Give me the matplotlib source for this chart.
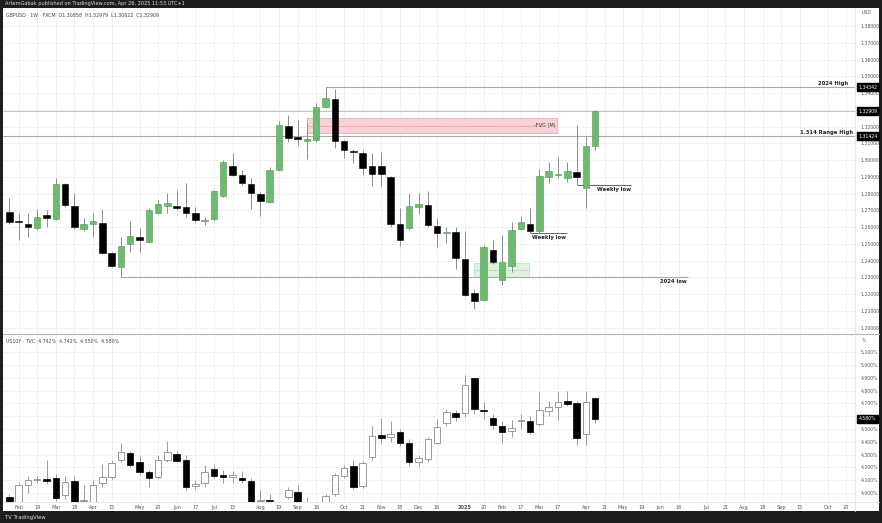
import matplotlib
matplotlib.use("Agg")
import matplotlib.pyplot as plt
from matplotlib.patches import Rectangle
from matplotlib.transforms import blended_transform_factory
import numpy as np

# ---------------- data ----------------
# GBPUSD weekly, week 0 = 29 Jan 2024
fx_open = [1.2691, 1.2633, 1.2618, 1.2594, 1.2672, 1.2648, 1.2855, 1.2727, 1.2586, 1.2618,
           1.2622, 1.2443, 1.2363, 1.2496, 1.2538, 1.2512, 1.2682, 1.2727, 1.2725, 1.2721,
           1.2682, 1.2634, 1.2646, 1.2785, 1.2964, 1.2910, 1.2855, 1.2795, 1.2751, 1.2940,
           1.3203, 1.3135, 1.3112, 1.3119, 1.3319, 1.3364, 1.3113, 1.3055, 1.3040, 1.2964,
           1.2964, 1.2900, 1.2618, 1.2592, 1.2721, 1.2730, 1.2608, 1.2562, 1.2572, 1.2407,
           1.2204, 1.2164, 1.2463, 1.2284, 1.2369, 1.2586, 1.2618, 1.2578, 1.2897, 1.2913,
           1.2891, 1.2926, 1.2835, 1.30858]
fx_high = [1.2771, 1.2682, 1.2682, 1.2706, 1.2701, 1.2891, 1.2862, 1.2801, 1.2654, 1.2685,
           1.2709, 1.2450, 1.2538, 1.2636, 1.2596, 1.2711, 1.2760, 1.2801, 1.2821, 1.2861,
           1.2721, 1.2660, 1.2820, 1.2998, 1.3044, 1.2940, 1.2890, 1.2810, 1.2956, 1.3230,
           1.3269, 1.3239, 1.3219, 1.3342, 1.34342, 1.3422, 1.3120, 1.3064, 1.3060, 1.3044,
           1.3047, 1.2905, 1.2713, 1.2801, 1.2804, 1.2812, 1.2654, 1.2602, 1.2602, 1.2575,
           1.2230, 1.2490, 1.2522, 1.2552, 1.2632, 1.2667, 1.2715, 1.2946, 1.2990, 1.3016,
           1.2990, 1.3209, 1.3143, 1.32979]
fx_low = [1.2618, 1.2522, 1.2539, 1.2585, 1.2602, 1.2640, 1.2720, 1.2590, 1.2575, 1.2542,
          1.2440, 1.2363, 1.2300, 1.2452, 1.2449, 1.2507, 1.2675, 1.2682, 1.2701, 1.2662,
          1.2630, 1.2612, 1.2637, 1.2780, 1.2905, 1.2850, 1.2706, 1.2667, 1.2745, 1.2935,
          1.3109, 1.3088, 1.3004, 1.3110, 1.3310, 1.3070, 1.3010, 1.2980, 1.2910, 1.2845,
          1.2844, 1.2602, 1.2487, 1.2580, 1.2680, 1.2600, 1.2481, 1.2503, 1.2350, 1.2190,
          1.2109, 1.2160, 1.2380, 1.2254, 1.2333, 1.2580, 1.2562, 1.2562, 1.2861, 1.2890,
          1.2870, 1.2851, 1.2712, 1.30622]
fx_close = [1.2632, 1.2628, 1.2600, 1.2662, 1.2655, 1.2855, 1.2731, 1.2602, 1.2618, 1.2638,
            1.2447, 1.2367, 1.2487, 1.2546, 1.2522, 1.2701, 1.2735, 1.2741, 1.2715, 1.2686,
            1.2642, 1.2642, 1.2815, 1.2986, 1.2910, 1.2861, 1.2803, 1.2757, 1.2940, 1.3209,
            1.3130, 1.3125, 1.3124, 1.3318, 1.3368, 1.3113, 1.3060, 1.3048, 1.2954, 1.2915,
            1.2915, 1.2618, 1.2522, 1.2725, 1.2737, 1.2612, 1.2566, 1.2572, 1.2417, 1.2196,
            1.2160, 1.2479, 1.2389, 1.2389, 1.2582, 1.2628, 1.2578, 1.2906, 1.2936, 1.2916,
            1.2934, 1.2900, 1.3084, 1.32909]

# US10Y weekly (%)
ry_open = [3.966, 3.930, 4.062, 4.100, 4.100, 4.120, 3.984, 4.096, 3.935, 3.930,
           4.076, 4.127, 4.258, 4.315, 4.245, 4.166, 4.127, 4.258, 4.305, 4.258,
           4.055, 4.076, 4.185, 4.130, 4.125, 4.120, 4.096, 3.935, 3.940, 3.850,
           3.970, 4.010, 3.900, 3.850, 3.930, 3.990, 4.135, 4.213, 4.057, 4.284,
           4.453, 4.435, 4.474, 4.393, 4.240, 4.263, 4.393, 4.550, 4.627, 4.623,
           4.896, 4.645, 4.584, 4.523, 4.484, 4.562, 4.562, 4.537, 4.643, 4.674,
           4.720, 4.700, 4.459, 4.742]
ry_high = [3.990, 4.090, 4.135, 4.130, 4.260, 4.150, 4.130, 4.130, 4.060, 4.100,
           4.230, 4.260, 4.390, 4.330, 4.290, 4.180, 4.300, 4.410, 4.330, 4.300,
           4.100, 4.220, 4.230, 4.180, 4.170, 4.170, 4.120, 4.020, 3.990, 3.880,
           4.050, 4.060, 3.970, 3.900, 3.990, 4.160, 4.220, 4.260, 4.250, 4.520,
           4.585, 4.560, 4.500, 4.420, 4.300, 4.440, 4.580, 4.660, 4.650, 4.920,
           4.900, 4.710, 4.620, 4.560, 4.570, 4.620, 4.600, 4.790, 4.720, 4.800,
           4.800, 4.720, 4.797, 4.742]
ry_low = [3.880, 3.900, 4.000, 4.080, 4.070, 3.940, 3.950, 3.900, 3.920, 3.900,
          4.050, 4.110, 4.240, 4.200, 4.140, 4.050, 4.110, 4.240, 4.240, 4.020,
          4.030, 4.050, 4.120, 4.078, 4.080, 4.080, 3.900, 3.900, 3.900, 3.780,
          3.950, 3.900, 3.850, 3.800, 3.900, 3.980, 4.120, 4.030, 4.040, 4.260,
          4.380, 4.400, 4.370, 4.210, 4.200, 4.240, 4.380, 4.520, 4.560, 4.590,
          4.620, 4.580, 4.500, 4.390, 4.440, 4.500, 4.460, 4.520, 4.600, 4.570,
          4.680, 4.375, 4.375, 4.550]
ry_close = [3.880, 4.062, 4.100, 4.107, 4.096, 3.963, 4.088, 3.930, 3.948, 4.062,
            4.127, 4.232, 4.323, 4.219, 4.166, 4.115, 4.258, 4.323, 4.252, 4.045,
            4.070, 4.166, 4.135, 4.125, 4.130, 4.100, 3.930, 3.945, 3.935, 3.800,
            4.020, 3.930, 3.880, 3.820, 3.977, 4.140, 4.193, 4.050, 4.232, 4.448,
            4.427, 4.459, 4.388, 4.240, 4.276, 4.420, 4.518, 4.635, 4.596, 4.844,
            4.654, 4.637, 4.531, 4.479, 4.510, 4.565, 4.474, 4.648, 4.670, 4.713,
            4.695, 4.427, 4.713, 4.580]

# time axis labels (week index, text)
tick_idx = [1, 3, 5, 7, 9, 11, 14, 16, 18, 20, 22, 24, 27, 29, 31, 33, 36, 38, 40, 42,
            44, 46, 49, 51, 53, 55, 57, 59, 62, 64, 66, 68, 70, 72, 75, 77, 79, 81, 83, 85,
            88, 90]
tick_txt = ["Feb", "19", "Mar", "18", "Apr", "15", "May", "20", "Jun", "17", "Jul", "15",
            "Aug", "19", "Sep", "16", "Oct", "21", "Nov", "18", "Dec", "16", "2025", "20",
            "Feb", "17", "Mar", "17", "Apr", "21", "May", "19", "Jun", "16", "Jul", "21",
            "Aug", "18", "Sep", "15", "Oct", "20"]

price_ticks = [round(1.20 + 0.01 * k, 2) for k in range(19)]
rate_ticks = [round(4.0 + 0.1 * k, 1) for k in range(12)]

# annotation levels
high_2024 = 1.34342
range_high = 1.31424
last_price = 1.32909
low_2024 = 1.2300
weekly_low_1 = 1.2562
weekly_low_2 = 1.2851
fvg_low, fvg_high = 1.31594, 1.32490
demand_low, demand_high = 1.2303, 1.2387
last_rate = 4.580

# ---------------- layout ----------------
W, H = 882, 523
plt.rcParams['font.family'] = ['DejaVu Sans']


def rect(x0, y0, x1, y1):
    return [x0 / W, 1 - y1 / H, (x1 - x0) / W, (y1 - y0) / H]


fig = plt.figure(figsize=(W / 100, H / 100), dpi=100, facecolor='#1e1e1e')

bg = fig.add_axes(rect(3, 8, 879, 511))
bg.set_facecolor('white')
bg.set_xticks([]); bg.set_yticks([])
for s in bg.spines.values():
    s.set_visible(False)

ax1 = fig.add_axes(rect(3, 8, 855, 333))
ax2 = fig.add_axes(rect(3, 335, 855, 502))

x_left = (3 - 9.3) / 9.3
x_right = (855 - 9.3) / 9.3

GRID = '#f1f1f1'
TXT = '#555555'
GREEN = '#6dbb70'
GREEN_EDGE = '#4f9a52'
WICK = '#8c8c8c'
BW = 0.7
TICKFS = 3.3

for ax in (ax1, ax2):
    ax.set_xlim(x_left, x_right)
    ax.set_facecolor('white')
    for s in ax.spines.values():
        s.set_visible(False)
    ax.set_xticks(tick_idx)
    ax.grid(True, color=GRID, lw=0.7, zorder=0)
    ax.set_axisbelow(True)
    ax.yaxis.tick_right()
    ax.tick_params(axis='y', length=0, pad=4.2, labelsize=TICKFS, labelcolor=TXT)
    ax.tick_params(axis='x', length=0)

ax1.set_ylim(1.19672, 1.39075)
ax2.set_ylim(3.930, 5.234)

ax1.set_yticks(price_ticks)
ax1.set_yticklabels(["" if abs(p - 1.33) < 1e-6 else f"{p:.5f}" for p in price_ticks])
ax1.set_xticklabels([])

ax2.set_yticks(rate_ticks)
ax2.set_yticklabels(["" if abs(r - 4.6) < 1e-6 else f"{r:.3f}%" for r in rate_ticks])
ax2.set_xticklabels(tick_txt)
ax2.tick_params(axis='x', pad=2.0, labelsize=3.6, labelcolor=TXT)
for lab in ax2.get_xticklabels():
    if lab.get_text() == "2025":
        lab.set_fontweight('bold')

# ---------------- candles: GBPUSD ----------------
n = len(fx_open)
idx = np.arange(n)
o = np.array(fx_open); h = np.array(fx_high); l = np.array(fx_low); c = np.array(fx_close)
ax1.vlines(idx, l, h, color=WICK, lw=0.7, zorder=3)
up = c >= o
bottoms = np.minimum(o, c)
heights = np.maximum(np.abs(c - o), 0.00035)
ax1.bar(idx[up], heights[up], bottom=bottoms[up], width=BW, color=GREEN,
        edgecolor=GREEN_EDGE, lw=0.4, zorder=4)
ax1.bar(idx[~up], heights[~up], bottom=bottoms[~up], width=BW, color='black',
        edgecolor='black', lw=0.4, zorder=4)

# ---------------- candles: US10Y ----------------
o2 = np.array(ry_open); h2 = np.array(ry_high); l2 = np.array(ry_low); c2 = np.array(ry_close)
ax2.vlines(idx, l2, h2, color='#9a9a9a', lw=0.7, zorder=3)
up2 = c2 >= o2
b2 = np.minimum(o2, c2)
hh2 = np.maximum(np.abs(c2 - o2), 0.012)
ax2.bar(idx[up2], hh2[up2], bottom=b2[up2], width=BW, color='white',
        edgecolor='#8a8a8a', lw=0.6, zorder=4)
ax2.bar(idx[~up2], hh2[~up2], bottom=b2[~up2], width=BW, color='black',
        edgecolor='black', lw=0.5, zorder=4)

# ---------------- drawings ----------------
LINE = '#a8a8a8'
ax1.hlines(last_price, x_left, x_right, color='#c4c4c4', lw=0.7, zorder=2)
ax1.hlines(range_high, x_left, x_right, color=LINE, lw=0.8, zorder=2)
ax1.hlines(high_2024, 34, x_right, color=LINE, lw=0.8, zorder=2)
ax1.hlines(low_2024, 12, 73.0, color=LINE, lw=0.8, zorder=2)
ax1.hlines(weekly_low_1, 56, 59.97, color='#666666', lw=0.7, zorder=2)
ax1.hlines(weekly_low_2, 61, 66.85, color='#666666', lw=0.7, zorder=2)

ax1.add_patch(Rectangle((32, fvg_low), 58.92 - 32, fvg_high - fvg_low,
                        facecolor='#f8d2d7', edgecolor='#f0a8b2', lw=0.6, zorder=1.5))
ax1.hlines((fvg_low + fvg_high) / 2, 32, 57.3, color='#e0707e', lw=0.5,
           linestyles=(0, (1.5, 1.5)), zorder=1.6)
ax1.add_patch(Rectangle((50, demand_low), 55.9 - 50, demand_high - demand_low,
                        facecolor='#e0f1e0', edgecolor='#c2e2c2', lw=0.6, zorder=1.5))
ax1.hlines((demand_low + demand_high) / 2, 50, 55.9, color='#7cc27f', lw=0.5,
           linestyles=(0, (1.5, 1.5)), zorder=1.6)

ANN = dict(fontsize=3.8, color='#222222', fontweight='bold', zorder=6)
ax1.text(90.2, high_2024 + 0.0008, "2024 High", ha='right', va='bottom', **ANN)
ax1.text(90.7, range_high + 0.0008, "1.314 Range High", ha='right', va='bottom', **ANN)
ax1.text(72.8, low_2024 - 0.0010, "2024 low", ha='right', va='top', **ANN)
ax1.text(59.86, weekly_low_1 - 0.0010, "Weekly low", ha='right', va='top', **ANN)
ax1.text(66.85, weekly_low_2 - 0.0010, "Weekly low", ha='right', va='top', **ANN)
ax1.text(58.78, (fvg_low + fvg_high) / 2, "-FVG (M)", ha='right', va='center',
         fontsize=3.6, color='#333333', zorder=6)

# price label boxes on the scale
tr1 = blended_transform_factory(ax1.transAxes, ax1.transData)
tr2 = blended_transform_factory(ax2.transAxes, ax2.transData)
BOX = dict(boxstyle='square,pad=0.3', fc='black', ec='black')
for v in (high_2024, last_price, range_high):
    ax1.text(1.0045, v, f"{v:.5f}", transform=tr1, ha='left', va='center',
             fontsize=TICKFS, color='white', bbox=BOX, zorder=10, clip_on=False)
ax2.text(1.0045, last_rate, f"{last_rate:.3f}%", transform=tr2, ha='left', va='center',
         fontsize=TICKFS, color='white', bbox=BOX, zorder=10, clip_on=False)

# pane legends and units
ax1.text(0.004, 0.985, "GBPUSD · 1W · FXCM  O1.30858  H1.32979  L1.30622  C1.32909",
         transform=ax1.transAxes, ha='left', va='top', fontsize=3.4, color='#444444')
ax2.text(0.004, 0.975, "US10Y · TVC  4.742%  4.742%  4.550%  4.580%",
         transform=ax2.transAxes, ha='left', va='top', fontsize=3.4, color='#444444')
fig.text(862 / W, 1 - 13 / H, "USD", fontsize=3.4, color=TXT, va='center')
fig.text(862 / W, 1 - 340 / H, "%", fontsize=3.4, color=TXT, va='center')

# separators
fig.add_artist(plt.Line2D([3 / W, 879 / W], [1 - 334 / H] * 2, color='#b5b5b5', lw=0.8))
fig.add_artist(plt.Line2D([3 / W, 879 / W], [1 - 502 / H] * 2, color='#e2e2e2', lw=0.6))
fig.add_artist(plt.Line2D([855 / W] * 2, [1 - 8 / H, 1 - 511 / H], color='#e2e2e2', lw=0.6))

# header / footer
fig.text(5 / W, 1 - 3.5 / H, "ArtemGabak published on TradingView.com, Apr 26, 2025 11:53 UTC+1",
         fontsize=3.6, color='#dddddd', va='center')
fig.text(5 / W, 1 - 517 / H, "TV TradingView", fontsize=3.8, color='#dddddd', va='center')

fig.savefig("out.png", dpi=100, facecolor=fig.get_facecolor())
